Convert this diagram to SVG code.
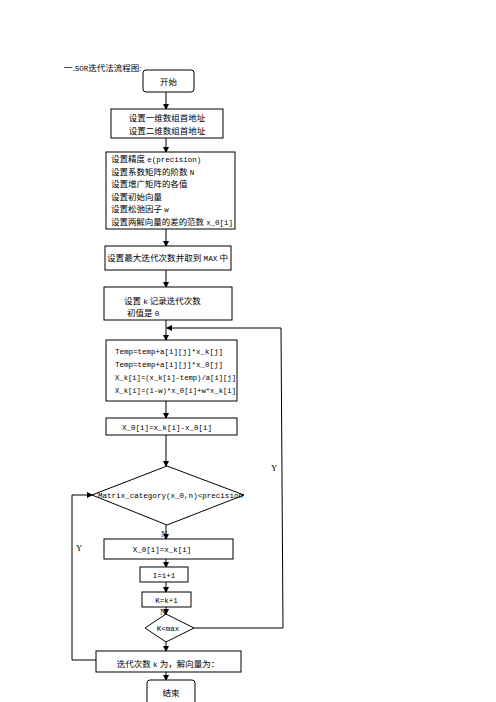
<svg xmlns="http://www.w3.org/2000/svg" width="496" height="702" viewBox="0 0 496 702">
<style>
.b{fill:#fff;stroke:#000;stroke-width:1}
.c{fill:none;stroke:#000;stroke-width:1}
.t{font-family:"Liberation Serif","Noto Sans CJK SC",serif;font-size:8.5px;fill:#000}
.m{font-family:"Liberation Mono","Noto Sans CJK SC",monospace;font-size:7.5px;fill:#000}
.a{font-size:7.5px;font-family:"Liberation Mono",monospace}
</style>
<defs>
<marker id="ar" markerWidth="6" markerHeight="6" refX="5" refY="3" orient="auto" markerUnits="userSpaceOnUse">
<path d="M0,0 L6,3 L0,6 Z" fill="#000"/>
</marker>
</defs>
<rect width="496" height="702" fill="#fff"/>
<text class="t" x="64" y="71">一.<tspan class="a">SOR</tspan>迭代法流程图:</text>
<g id="connectors">
<path class="c" d="M166,92 V109" marker-end="url(#ar)"/>
<path class="c" d="M166,138 V152" marker-end="url(#ar)"/>
<path class="c" d="M166,229 V246" marker-end="url(#ar)"/>
<path class="c" d="M166,270 V287" marker-end="url(#ar)"/>
<path class="c" d="M166,320 V340" marker-end="url(#ar)"/>
<path class="c" d="M166,401 V418" marker-end="url(#ar)"/>
<path class="c" d="M166,435 V466" marker-end="url(#ar)"/>
<path class="c" d="M166,525 V539" marker-end="url(#ar)"/>
<path class="c" d="M166,559 V567" marker-end="url(#ar)"/>
<path class="c" d="M166,582 V592" marker-end="url(#ar)"/>
<path class="c" d="M166,607 V614" marker-end="url(#ar)"/>
<path class="c" d="M166,642 V651" marker-end="url(#ar)"/>
<path class="c" d="M166,672 V680" marker-end="url(#ar)"/>
<path class="c" d="M194,628 H283 L281,328 H167" marker-end="url(#ar)"/>
<path class="c" d="M97,660 H72 V495 H92" marker-end="url(#ar)"/>
<text class="t" x="271" y="471">Y</text>
<text class="t" x="76" y="551">Y</text>
<text class="t" x="161" y="537">N</text>
<text class="t" x="160" y="615">N</text>
</g>
<g id="start">
<rect class="b" x="143" y="70" width="51" height="22" rx="3"/>
<text class="t" x="168.5" y="85" text-anchor="middle" font-size="9.5">开始</text>
</g>
<g id="addr">
<rect class="b" x="111" y="109" width="112" height="29"/>
<text class="t" x="167" y="121" text-anchor="middle" font-size="9.5">设置一维数组首地址</text>
<text class="t" x="167" y="134" text-anchor="middle" font-size="9.5">设置二维数组首地址</text>
</g>
<g id="params">
<rect class="b" x="106" y="152" width="129" height="77"/>
<text class="t" x="111" y="162">设置精度 <tspan class="a">e(precision)</tspan></text>
<text class="t" x="111" y="175">设置系数矩阵的阶数 <tspan class="a">N</tspan></text>
<text class="t" x="111" y="187">设置增广矩阵的各值</text>
<text class="t" x="111" y="200">设置初始向量</text>
<text class="t" x="111" y="212">设置松弛因子 <tspan class="a">w</tspan></text>
<text class="t" x="111" y="225" textLength="122" lengthAdjust="spacingAndGlyphs">设置两解向量的差的范数 <tspan class="a">x_0[i]</tspan></text>
</g>
<g id="max">
<rect class="b" x="105" y="246" width="126" height="24"/>
<text class="t" x="107" y="261" textLength="121" lengthAdjust="spacingAndGlyphs">设置最大迭代次数并取到 <tspan class="a">MAX</tspan> 中</text>
</g>
<g id="kinit">
<rect class="b" x="104" y="287" width="128" height="33"/>
<text class="t" x="124" y="304">设置 <tspan class="a">k</tspan> 记录迭代次数</text>
<text class="t" x="127" y="316">初值是 <tspan class="a">0</tspan></text>
</g>
<g id="calc">
<rect class="b" x="106" y="340" width="131" height="61"/>
<text class="m" x="115" y="354">Temp=temp+a[i][j]*x_k[j]</text>
<text class="m" x="115" y="367">Temp=temp+a[i][j]*x_0[j]</text>
<text class="m" x="115" y="380" textLength="121" lengthAdjust="spacingAndGlyphs">X_k[i]=(x_k[i]-temp)/a[i][j]</text>
<text class="m" x="115" y="393" textLength="121" lengthAdjust="spacingAndGlyphs">X_k[i]=(1-w)*x_0[i]+w*x_k[i]</text>
</g>
<g id="diff">
<rect class="b" x="106" y="418" width="131" height="17"/>
<text class="m" x="122" y="430">X_0[i]=x_k[i]-x_0[i]</text>
</g>
<g id="check">
<path class="b" d="M167,466 L244,495 L167,525 L92,495 Z"/>
<text class="m" x="98" y="498" textLength="145" lengthAdjust="spacingAndGlyphs">Matrix_category(x_0,n)&lt;precision</text>
</g>
<g id="copy">
<rect class="b" x="104" y="539" width="129" height="20"/>
<text class="m" x="162" y="552" text-anchor="middle">X_0[i]=x_k[i]</text>
</g>
<g id="inci">
<rect class="b" x="140" y="567" width="48" height="15"/>
<text class="m" x="164" y="578" text-anchor="middle">I=i+1</text>
</g>
<g id="inck">
<rect class="b" x="142" y="592" width="49" height="15"/>
<text class="m" x="166.5" y="603" text-anchor="middle">K=k+1</text>
</g>
<g id="kmax">
<path class="b" d="M166,614 L194,628 L166,642 L145,628 Z"/>
<text class="m" x="168" y="631" text-anchor="middle">K&lt;max</text>
</g>
<g id="result">
<rect class="b" x="96" y="651" width="145" height="21"/>
<text class="t" x="168" y="667" text-anchor="middle">迭代次数 <tspan class="a">k</tspan> 为，解向量为：</text>
</g>
<g id="end">
<rect class="b" x="147" y="680" width="48" height="26" rx="3"/>
<text class="t" x="171" y="696" text-anchor="middle" font-size="9.5">结束</text>
</g>
</svg>
